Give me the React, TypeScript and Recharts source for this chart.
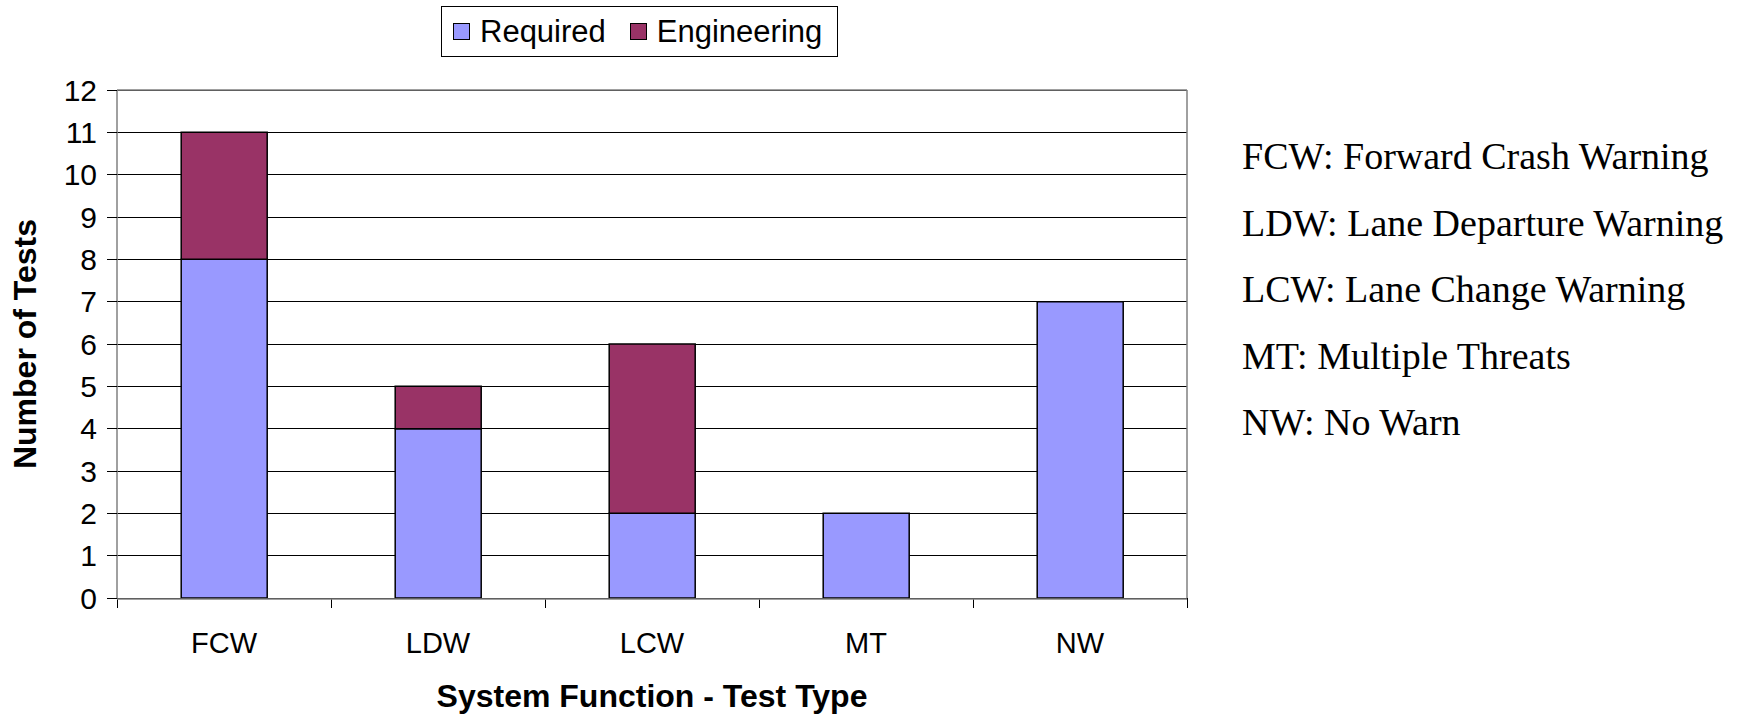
import { BarChart, Bar, XAxis, YAxis, CartesianGrid, Legend, ReferenceLine } from 'recharts';

const categories = ['FCW', 'LDW', 'LCW', 'MT', 'NW'];
const seriesNames = ['Required', 'Engineering'];
const required = [8, 4, 2, 2, 7];
const engineering = [3, 1, 4, 0, 0];
const yTicks = [0, 1, 2, 3, 4, 5, 6, 7, 8, 9, 10, 11, 12];
const boundaryTicks = [0, 1, 2, 3, 4, 5];
const definitions = [
  'FCW: Forward Crash Warning',
  'LDW: Lane Departure Warning',
  'LCW: Lane Change Warning',
  'MT: Multiple Threats',
  'NW: No Warn',
];

// slot = position of each category on the boundary-tick axis (0..5)
const data = categories.map((name, i) => ({ name, slot: i + 0.5, Required: required[i], Engineering: engineering[i] }));

const sans = '"Liberation Sans", Arial, sans-serif';
const serif = '"Liberation Serif", "Times New Roman", serif';

function LegendBox({ payload }: any) {
  const items = [...(payload || [])].sort(
    (a: any, b: any) => seriesNames.indexOf(a.value) - seriesNames.indexOf(b.value),
  );
  return (
    <div
      style={{
        boxSizing: 'border-box',
        width: 397,
        height: 51,
        border: '1px solid #000',
        display: 'flex',
        alignItems: 'center',
        paddingLeft: 11,
        fontFamily: sans,
        fontSize: 31,
        color: '#000',
        background: '#fff',
      }}
    >
      {items.map((p: any, i: number) => (
        <div key={p.value} style={{ display: 'flex', alignItems: 'center', marginLeft: i === 0 ? 0 : 24 }}>
          <span
            style={{
              display: 'inline-block',
              width: 15,
              height: 15,
              background: p.color,
              border: '1.5px solid #000',
              marginRight: 10,
            }}
          />
          <span>{p.value}</span>
        </div>
      ))}
    </div>
  );
}

export default function App() {
  return (
    <div style={{ position: 'absolute', left: 0, top: 0, width: 1737, height: 715, background: '#fff' }}>
      <BarChart
        width={1737}
        height={715}
        data={data}
        margin={{ top: 90, right: 550, bottom: 0, left: 0 }}
        barCategoryGap="30%"
      >
        <CartesianGrid vertical={false} stroke="#000" strokeWidth={1} shapeRendering="crispEdges" />
        <XAxis
          xAxisId={0}
          dataKey="slot"
          type="number"
          domain={[0, 5]}
          allowDataOverflow
          ticks={boundaryTicks}
          interval={0}
          tickFormatter={() => ''}
          axisLine={false}
          tickLine={{ stroke: '#000', shapeRendering: 'crispEdges' }}
          tickSize={10}
          height={1}
        />
        <XAxis
          xAxisId="cat"
          dataKey="name"
          height={116}
          axisLine={{ stroke: '#808080', strokeWidth: 1.5 }}
          tickLine={false}
          tickSize={0}
          tickMargin={33}
          tick={{ fill: '#000', fontSize: 29, fontFamily: sans }}
          label={{
            value: 'System Function - Test Type',
            position: 'insideBottom',
            offset: 8,
            style: { fill: '#000', fontSize: 32, fontWeight: 'bold', fontFamily: sans },
          }}
        />
        <YAxis
          width={117}
          domain={[0, 12]}
          ticks={yTicks}
          interval={0}
          axisLine={{ stroke: '#808080', strokeWidth: 1.5 }}
          tickLine={{ stroke: '#000', shapeRendering: 'crispEdges' }}
          tickSize={10}
          tickMargin={10}
          tick={{ fill: '#000', fontSize: 30, fontFamily: sans }}
          label={{
            value: 'Number of Tests',
            angle: -90,
            position: 'insideLeft',
            offset: 25,
            style: { textAnchor: 'middle', fill: '#000', fontSize: 32, fontWeight: 'bold', fontFamily: sans },
          }}
        />
        <ReferenceLine y={12} stroke="#808080" strokeWidth={1.5} />
        <ReferenceLine x={5} stroke="#808080" strokeWidth={1.5} />
        <Legend
          layout="horizontal"
          verticalAlign="middle"
          align="center"
          wrapperStyle={{ top: 6, left: 441, width: 397, height: 51 }}
          content={<LegendBox />}
        />
        <Bar xAxisId="cat" dataKey="Required" stackId="a" fill="#9999FF" stroke="#000" strokeWidth={1.5} isAnimationActive={false} />
        <Bar xAxisId="cat" dataKey="Engineering" stackId="a" fill="#993366" stroke="#000" strokeWidth={1.5} isAnimationActive={false} />
      </BarChart>
      <div style={{ position: 'absolute', left: 1242, top: 123, fontFamily: serif, fontSize: 38, color: '#000' }}>
        {definitions.map((d) => (
          <div key={d} style={{ height: 66.5, lineHeight: '66.5px', whiteSpace: 'nowrap' }}>
            {d}
          </div>
        ))}
      </div>
    </div>
  );
}
